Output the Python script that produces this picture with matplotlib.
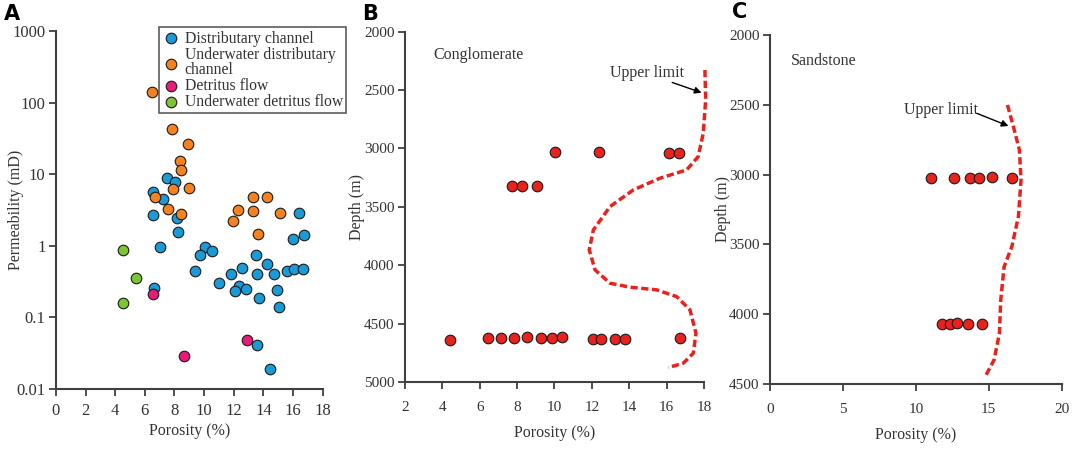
import matplotlib
matplotlib.use('Agg')
import matplotlib.pyplot as plt
import numpy as np

# Panel A: porosity (%) vs permeability (mD) by facies
dc_por = [7.52, 8.03, 6.55, 7.25, 6.55, 8.17, 16.43, 8.21, 7.02, 10.04, 10.53, 9.72,
          13.5, 15.98, 16.72, 9.39, 14.27, 12.58, 11.84, 13.55, 14.74, 15.62, 16.09,
          16.7, 10.98, 12.33, 12.1, 12.8, 13.69, 14.92, 15.08, 6.6, 13.59, 14.45]
dc_perm = [8.77, 7.78, 5.58, 4.46, 2.67, 2.42, 2.84, 1.55, 0.97, 0.95, 0.855, 0.74,
           0.75, 1.26, 1.4, 0.44, 0.557, 0.49, 0.404, 0.404, 0.404, 0.45, 0.47,
           0.47, 0.305, 0.277, 0.236, 0.252, 0.187, 0.244, 0.138, 0.255, 0.041, 0.0188]

udc_por = [6.46, 7.81, 8.89, 8.37, 8.46, 8.96, 7.9, 6.71, 7.54, 8.42, 13.28, 14.22,
           12.29, 13.3, 15.1, 11.93, 13.66]
udc_perm = [140, 42.4, 26.4, 15.1, 11.3, 6.5, 6.15, 4.75, 3.24, 2.81, 4.85, 4.85,
            3.16, 3.1, 2.87, 2.24, 1.46]

df_por = [6.55, 12.9, 8.62]
df_perm = [0.212, 0.048, 0.029]

udf_por = [4.52, 5.42, 4.52]
udf_perm = [0.88, 0.35, 0.159]

# Panel B: conglomerate
cg_por = [10.03, 12.38, 16.14, 16.68, 7.74, 8.24, 9.05,
          4.43, 6.44, 7.15, 7.83, 8.53, 9.28, 9.88, 10.4, 12.06, 12.5, 13.22, 13.75, 16.7]
cg_depth = [3027, 3027, 3041, 3039, 3318, 3324, 3318,
            4643, 4625, 4622, 4622, 4611, 4622, 4622, 4618, 4628, 4628, 4628, 4628, 4625]
cg_lim_por = [18.05, 18.09, 17.96, 17.69, 17.07, 15.64, 14.22, 12.97, 12.08, 11.86,
              12.17, 12.97, 14.04, 15.47, 16.54, 17.25, 17.57, 17.43, 16.89, 16.09]
cg_lim_depth = [2328, 2585, 2870, 3070, 3184, 3255, 3355, 3498, 3698, 3869,
                4040, 4154, 4188, 4211, 4269, 4382, 4582, 4753, 4839, 4876]

# Panel C: sandstone
ss_por = [11.04, 12.6, 13.72, 14.36, 15.23, 16.6, 11.82, 12.35, 12.83, 13.58, 14.54]
ss_depth = [3022, 3022, 3022, 3022, 3015, 3022, 4068, 4068, 4065, 4068, 4068]
ss_lim_por = [16.28, 16.69, 17.1, 17.21, 17.03, 16.58, 16.05, 15.82, 15.73, 15.36, 14.75]
ss_lim_depth = [2501, 2657, 2824, 3039, 3301, 3516, 3660, 3898, 4137, 4328, 4448]

serif = 'Liberation Serif'
txt = '#333333'
spine_c = '#404040'
red = '#e8231e'
ms = 58


def style_axes(ax, size, xpad):
    for s in ['top', 'right']:
        ax.spines[s].set_visible(False)
    for s in ['left', 'bottom']:
        ax.spines[s].set_color(spine_c)
        ax.spines[s].set_linewidth(1.5)
    ax.tick_params(direction='out', length=5, width=1.3, color=spine_c,
                   labelsize=size, labelcolor=txt)
    ax.tick_params(axis='y', pad=2.5)
    ax.tick_params(axis='x', pad=xpad)
    for lab in ax.get_xticklabels() + ax.get_yticklabels():
        lab.set_family(serif)


def set_labels(ax, xl, yl, xc, yc):
    ax.set_xlabel(xl, family=serif, fontsize=11.5, color=txt)
    ax.set_ylabel(yl, family=serif, fontsize=11.5, color=txt)
    ax.xaxis.label.set_va('center')
    ax.yaxis.label.set_va('center')
    ax.xaxis.set_label_coords(0.5, xc)
    ax.yaxis.set_label_coords(yc, 0.5)


fig = plt.figure(figsize=(10.72, 4.5), dpi=100)

# ---- A
axA = fig.add_axes([0.0522, 0.1356, 0.2488, 0.7954])
axA.set_yscale('log')
axA.scatter(dc_por, dc_perm, s=ms, c='#1a9ad6', edgecolors='#1a1a1a', linewidths=0.8,
            label='Distributary channel', zorder=3)
axA.scatter(udc_por, udc_perm, s=ms, c='#f5821f', edgecolors='#1a1a1a', linewidths=0.8,
            label='Underwater distributary\nchannel', zorder=3)
axA.scatter(df_por, df_perm, s=ms, c='#ea1a7a', edgecolors='#1a1a1a', linewidths=0.8,
            label='Detritus flow', zorder=3)
axA.scatter(udf_por, udf_perm, s=ms, c='#7cc534', edgecolors='#1a1a1a', linewidths=0.8,
            label='Underwater detritus flow', zorder=3)
axA.set_xlim(0, 18)
axA.set_ylim(0.01, 1000)
axA.set_xticks(range(0, 19, 2))
axA.set_yticks([0.01, 0.1, 1, 10, 100, 1000])
axA.set_yticklabels(['0.01', '0.1', '1', '10', '100', '1000'])
axA.minorticks_off()
set_labels(axA, 'Porosity (%)', 'Permeability (mD)', -0.117, -0.15)
style_axes(axA, 12, 5)
leg = axA.legend(loc='upper left', bbox_to_anchor=(0.385, 1.01), prop={'family': serif, 'size': 11.3},
                 frameon=True, fancybox=False, edgecolor='#333333', borderpad=0.2,
                 handletextpad=0.25, labelspacing=0.0, handlelength=1.2, borderaxespad=0)
leg.get_frame().set_linewidth(1.2)
for t in leg.get_texts():
    t.set_color(txt)
    t.set_linespacing(0.95)

# ---- B
axB = fig.add_axes([0.3778, 0.1511, 0.2789, 0.7785])
axB.scatter(cg_por, cg_depth, s=ms, c=red, edgecolors='#1a1a1a', linewidths=0.8, zorder=3)
axB.plot(cg_lim_por, cg_lim_depth, color=red, lw=2.5, ls=(0, (2.1, 1.0)), clip_on=False)
axB.set_xlim(2, 18)
axB.set_ylim(5000, 2000)
axB.set_xticks(range(2, 19, 2))
axB.set_yticks(range(2000, 5001, 500))
set_labels(axB, 'Porosity (%)', 'Depth (m)', -0.146, -0.16)
axB.text(3.5, 2200, 'Conglomerate', family=serif, fontsize=11.5, color=txt, va='center')
axB.text(12.97, 2355, 'Upper limit', family=serif, fontsize=11.5, color=txt, va='center')
axB.annotate('', xy=(17.87, 2522), xytext=(16.3, 2435),
             arrowprops=dict(arrowstyle='-|>', color='black', lw=1.0, mutation_scale=10,
                             shrinkA=0, shrinkB=0))
style_axes(axB, 11, 9)

# ---- C
axC = fig.add_axes([0.7183, 0.1467, 0.2721, 0.7755])
axC.scatter(ss_por, ss_depth, s=ms, c=red, edgecolors='#1a1a1a', linewidths=0.8, zorder=3)
axC.plot(ss_lim_por, ss_lim_depth, color=red, lw=2.5, ls=(0, (2.1, 1.0)), clip_on=False)
axC.set_xlim(0, 20)
axC.set_ylim(4500, 2000)
axC.set_xticks(range(0, 21, 5))
axC.set_yticks(range(2000, 4501, 500))
set_labels(axC, 'Porosity (%)', 'Depth (m)', -0.146, -0.161)
axC.text(1.4, 2186, 'Sandstone', family=serif, fontsize=11.5, color=txt, va='center')
axC.text(9.19, 2537, 'Upper limit', family=serif, fontsize=11.5, color=txt, va='center')
axC.annotate('', xy=(16.35, 2652), xytext=(14.18, 2561),
             arrowprops=dict(arrowstyle='-|>', color='black', lw=1.0, mutation_scale=10,
                             shrinkA=0, shrinkB=0))
style_axes(axC, 11, 9)

for lab, x, y in [('A', 0.004, 0.99), ('B', 0.338, 0.99), ('C', 0.683, 0.995)]:
    fig.text(x, y, lab, fontsize=15, fontweight='bold', family='DejaVu Sans', va='top')

fig.savefig('out.png', dpi=100)
